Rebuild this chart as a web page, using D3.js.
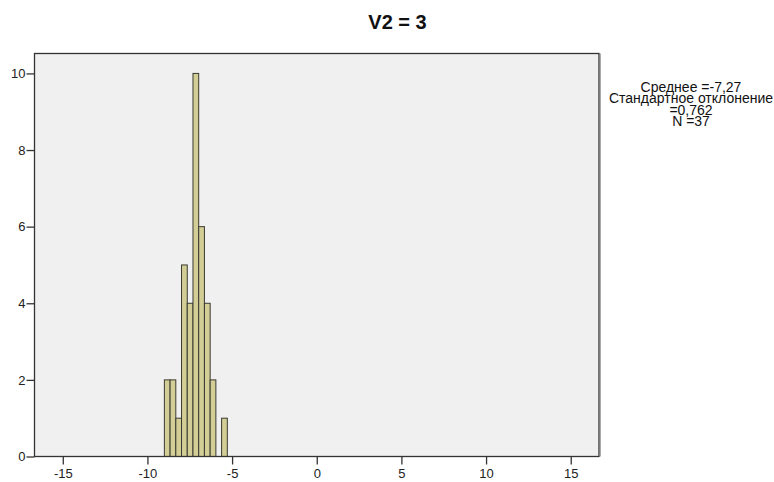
<!DOCTYPE html>
<html>
<head>
<meta charset="utf-8">
<script src="https://cdn.jsdelivr.net/npm/d3@7"></script>
<style>
  html, body { margin: 0; padding: 0; background: #fff; }
  svg { display: block; font-family: "Liberation Sans", Arial, sans-serif; }
</style>
</head>
<body>
<svg id="chart" width="774" height="482"></svg>
<script>
// Histogram of the variable for the group V2 = 3
const binStart = -9.0;
const binWidth = 0.338;
const counts = [2, 2, 1, 5, 4, 10, 6, 4, 2, 0, 1];
const xTicks = [-15, -10, -5, 0, 5, 10, 15];
const yTicks = [0, 2, 4, 6, 8, 10];
const title = "V2 = 3";
const statLines = ["Среднее =-7,27", "Стандартное отклонение", "=0,762", "N =37"];

const bins = counts.map((c, i) => ({ x0: binStart + i * binWidth, x1: binStart + (i + 1) * binWidth, n: c }));

const svg = d3.select("#chart");
const plot = { left: 34.5, top: 53.5, right: 599, bottom: 456.5 };

const x = d3.scaleLinear().domain([-16.67, 16.67]).range([plot.left, plot.right]);
const y = d3.scaleLinear().domain([0, 10.52]).range([plot.bottom, plot.top]);

// plot background
svg.append("rect")
  .attr("x", plot.left).attr("y", plot.top)
  .attr("width", plot.right - plot.left).attr("height", plot.bottom - plot.top)
  .attr("fill", "#f0f0f0");

// bars
svg.append("g").selectAll("rect")
  .data(bins.filter(d => d.n > 0))
  .join("rect")
  .attr("x", d => x(d.x0))
  .attr("y", d => y(d.n))
  .attr("width", d => x(d.x1) - x(d.x0))
  .attr("height", d => y(0) - y(d.n))
  .attr("fill", "#d3ce96")
  .attr("stroke", "#3a3a32")
  .attr("stroke-width", 1);

// frame
svg.append("rect")
  .attr("x", plot.left).attr("y", plot.top)
  .attr("width", plot.right - plot.left).attr("height", plot.bottom - plot.top)
  .attr("fill", "none")
  .attr("stroke", "#333")
  .attr("stroke-width", 1.3);
svg.append("line")
  .attr("x1", plot.right + 1.5).attr("x2", plot.right + 1.5)
  .attr("y1", plot.top).attr("y2", plot.bottom)
  .attr("stroke", "#aaa").attr("stroke-width", 1);

// axes
const xAxis = d3.axisBottom(x).tickValues(xTicks).tickSize(8).tickPadding(4).tickFormat(d => String(d));
const yAxis = d3.axisLeft(y).tickValues(yTicks).tickSize(8).tickPadding(1).tickFormat(d => String(d));

const gx = svg.append("g").attr("transform", `translate(0,${plot.bottom})`).call(xAxis);
const gy = svg.append("g").attr("transform", `translate(${plot.left},0)`).call(yAxis);
[gx, gy].forEach(g => {
  g.select(".domain").remove();
  g.selectAll(".tick line").attr("stroke", "#333").attr("stroke-width", 1.3);
  g.selectAll(".tick text").attr("fill", "#222").style("font-size", "13px")
    .style("font-family", "\"Liberation Sans\", Arial, sans-serif");
});

// title
svg.append("text")
  .attr("x", 397.5).attr("y", 29)
  .attr("text-anchor", "middle")
  .style("font-size", "20px").style("font-weight", "bold")
  .attr("fill", "#111")
  .text(title);

// summary statistics
svg.append("g").selectAll("text")
  .data(statLines)
  .join("text")
  .attr("x", 691)
  .attr("y", (d, i) => 91.5 + i * 11.5)
  .attr("text-anchor", "middle")
  .style("font-size", "14px")
  .attr("fill", "#111")
  .text(d => d);
</script>
</body>
</html>
